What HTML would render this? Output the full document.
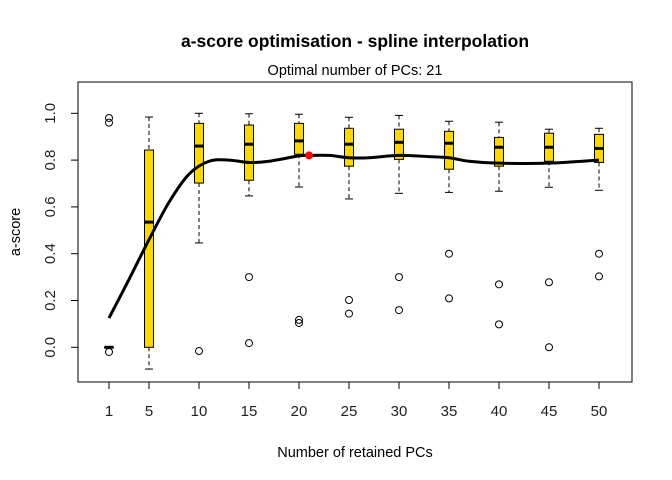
<!DOCTYPE html>
<html><head><meta charset="utf-8"><style>
body{margin:0;background:#fff}
svg{display:block;font-family:"Liberation Sans",Arial,sans-serif}
</style></head><body>
<svg id="chart" width="672" height="480">
<text x="355" y="47" text-anchor="middle" font-size="17.5" font-weight="bold">a-score optimisation - spline interpolation</text>
<text x="355" y="75" text-anchor="middle" font-size="14.5">Optimal number of PCs: 21</text>
<rect x="78" y="82" width="554" height="300" fill="none" stroke="#000"/>
<text x="355" y="457" text-anchor="middle" font-size="14.5">Number of retained PCs</text>
<text transform="translate(20,232) rotate(-90)" text-anchor="middle" font-size="14.5">a-score</text>
<g id="axes"></g><g id="boxes"></g><g id="curve"></g>
</svg>
<script>
const categories=[1,5,10,15,20,25,30,35,40,45,50];
const whiskerLow=[0,-0.093,0.446,0.647,0.685,0.634,0.658,0.662,0.667,0.684,0.671];
const q1=[0,0,0.702,0.714,0.825,0.774,0.803,0.761,0.774,0.795,0.79];
const medians=[0,0.535,0.86,0.868,0.882,0.868,0.876,0.872,0.855,0.855,0.85];
const q3=[0,0.843,0.957,0.95,0.957,0.936,0.932,0.923,0.897,0.915,0.91];
const whiskerHigh=[0,0.984,1.0,0.998,0.996,0.983,0.991,0.966,0.962,0.932,0.936];
const outliers=[[0.98,0.96,-0.02],[],[-0.016],[0.30,0.018],[0.117,0.104],[0.202,0.144],[0.30,0.159],[0.40,0.209],[0.269,0.098],[0.278,0.0],[0.40,0.303]];
const splineX=[1,3,5,7,9,11,13,15,17,20,21,23,25,27,30,33,35,37,40,45,50];
const splineY=[0.125,0.29,0.46,0.62,0.74,0.795,0.80,0.79,0.795,0.818,0.82,0.82,0.81,0.81,0.82,0.815,0.81,0.795,0.787,0.787,0.80];
const optimalPC=21, optimalScore=0.82;
const yTicks=[0,0.2,0.4,0.6,0.8,1.0];
const yTickLabels=["0.0","0.2","0.4","0.6","0.8","1.0"];

const NS="http://www.w3.org/2000/svg";
const xs=v=>99+10*v, ys=v=>347.3-234*v;
function mk(tag,attrs,parent){const e=document.createElementNS(NS,tag);for(const k in attrs)e.setAttribute(k,attrs[k]);parent.appendChild(e);return e;}
const ax=document.getElementById('axes'),bx=document.getElementById('boxes'),cv=document.getElementById('curve');
let ya=mk('line',{x1:78,x2:78,y1:ys(0),y2:ys(1),stroke:'#000'},ax);


yTicks.forEach((t,i)=>{
 const l=mk('line',{x1:71,x2:78,y1:ys(t),y2:ys(t),stroke:'#000'},ax);
 
 
 const tx=mk('text',{transform:`translate(55,${ys(t)}) rotate(-90)`,'text-anchor':'middle','font-size':15,fill:'#222'},ax);
 tx.textContent=yTickLabels[i];
 
 
});
let xa=mk('line',{x1:xs(1),x2:xs(50),y1:382,y2:382,stroke:'#000'},ax);


categories.forEach((c,i)=>{
 const x=xs(c);
 const t=mk('line',{x1:x,x2:x,y1:382,y2:389,stroke:'#000'},ax);
 
 
 const tx=mk('text',{x:x,y:416,'text-anchor':'middle','font-size':15,fill:'#222'},ax);
 tx.textContent=c;
 
 
 const g=mk('g',{},bx);
 
 
 mk('line',{x1:x,x2:x,y1:ys(whiskerHigh[i]),y2:ys(q3[i]),stroke:'#000','stroke-dasharray':'4,3'},g);
 mk('line',{x1:x,x2:x,y1:ys(q1[i]),y2:ys(whiskerLow[i]),stroke:'#000','stroke-dasharray':'4,3'},g);
 mk('line',{x1:x-4,x2:x+4,y1:ys(whiskerHigh[i]),y2:ys(whiskerHigh[i]),stroke:'#000'},g);
 mk('line',{x1:x-4,x2:x+4,y1:ys(whiskerLow[i]),y2:ys(whiskerLow[i]),stroke:'#000'},g);
 mk('rect',{x:x-4.5,y:ys(q3[i]),width:9,height:Math.max(0.5,ys(q1[i])-ys(q3[i])),fill:'#FFD700',stroke:'#000'},g);
 mk('line',{x1:x-4.5,x2:x+4.5,y1:ys(medians[i]),y2:ys(medians[i]),stroke:'#000','stroke-width':3},g);
 outliers[i].forEach(o=>{
  const p=mk('circle',{cx:x,cy:ys(o),r:3.5,fill:'none',stroke:'#000'},g);
  
  
 });
});
const P=splineX.map((v,i)=>[xs(v),ys(splineY[i])]);
let d=`M${P[0][0]},${P[0][1]}`;
for(let i=0;i<P.length-1;i++){
 const p0=P[Math.max(0,i-1)],p1=P[i],p2=P[i+1],p3=P[Math.min(P.length-1,i+2)];
 d+=` C${p1[0]+(p2[0]-p0[0])/6},${p1[1]+(p2[1]-p0[1])/6} ${p2[0]-(p3[0]-p1[0])/6},${p2[1]-(p3[1]-p1[1])/6} ${p2[0]},${p2[1]}`;
}
const path=mk('path',{d:d,fill:'none',stroke:'#000','stroke-width':3},cv);


const op=mk('circle',{cx:xs(optimalPC),cy:ys(optimalScore),r:3,fill:'#f00',stroke:'#f00','stroke-width':2},cv);


</script>
</body></html>
